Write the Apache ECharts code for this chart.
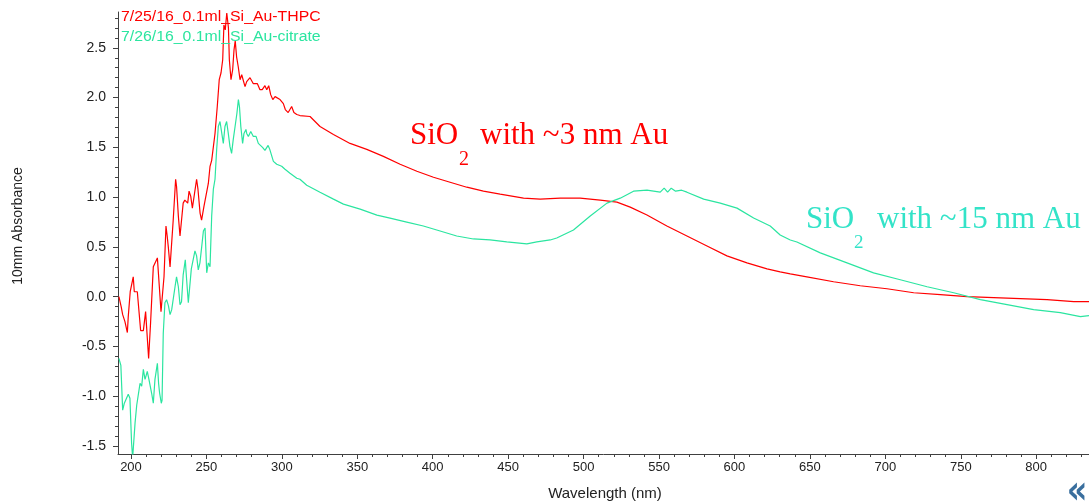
<!DOCTYPE html>
<html>
<head>
<meta charset="utf-8">
<script src="https://cdn.jsdelivr.net/npm/echarts@6/dist/echarts.min.js"></script>
<style>
html,body{margin:0;padding:0;background:#fff;}
#chart{width:1089px;height:502px;}
</style>
</head>
<body>
<div id="chart"></div>
<script>
// ---- data ----
const seriesNames = ['7/25/16_0.1ml_Si_Au-THPC', '7/26/16_0.1ml_Si_Au-citrate'];

const thpcWavelength = [192.0,193.5,194.5,196.0,197.6,198.2,199.5,201.5,202.2,204.2,206.4,208.2,209.7,211.7,213.0,214.8,215.9,217.5,218.8,219.9,220.8,221.9,223.2,224.0,224.8,225.9,226.6,228.0,229.6,230.2,231.4,232.5,233.2,234.6,235.7,237.0,237.6,238.5,239.6,240.7,242.0,243.5,244.4,245.8,246.8,248.4,249.7,251.3,252.4,253.5,254.6,255.7,257.2,258.5,259.7,260.8,261.6,262.5,263.5,264.6,265.2,266.3,267.4,268.3,269.1,270.0,271.1,272.3,273.4,274.4,275.6,276.7,277.8,278.9,280.0,281.1,282.4,283.8,285.5,287.0,288.8,290.0,291.3,292.6,294.0,295.5,296.6,298.8,301.0,302.3,304.2,306.5,308.0,309.9,312.0,318.7,325.3,334.2,345.2,356.3,367.3,378.4,389.5,400.5,411.5,422.6,433.6,444.7,460.2,471.2,484.5,497.7,511.0,522.1,530.9,542.0,555.2,568.5,581.8,595.0,608.3,621.6,630.3,637.0,648.0,665.7,683.4,701.1,718.8,736.5,754.2,771.8,789.5,807.2,824.9,835.0];
const thpcAbsorbance = [0.00,-0.10,-0.18,-0.25,-0.36,-0.20,0.05,0.20,0.05,0.05,-0.34,-0.34,-0.15,-0.62,-0.26,0.30,0.30,0.39,0.10,-0.15,-0.15,0.20,0.71,0.61,0.49,0.30,0.30,0.77,1.18,1.11,0.81,0.61,0.61,0.94,0.97,0.97,0.94,1.06,1.01,0.89,0.89,1.18,1.08,0.84,0.77,0.91,0.89,1.14,1.31,1.37,1.37,1.64,1.91,2.18,2.25,2.38,2.73,2.68,2.85,2.70,2.38,2.18,2.28,2.48,2.57,2.41,2.31,2.18,2.23,2.25,2.11,2.16,2.14,2.20,2.18,2.14,2.15,2.14,2.08,2.08,2.12,2.08,2.12,2.03,1.98,2.01,2.00,1.98,1.94,1.88,1.85,1.91,1.85,1.83,1.82,1.81,1.71,1.63,1.54,1.48,1.41,1.33,1.26,1.20,1.15,1.10,1.06,1.03,0.99,0.98,0.99,0.99,0.97,0.95,0.90,0.82,0.71,0.61,0.51,0.41,0.34,0.28,0.25,0.23,0.20,0.15,0.11,0.08,0.04,0.02,0.00,-0.01,-0.02,-0.03,-0.05,-0.05];

const citrateWavelength = [192.0,193.3,194.5,195.6,196.7,198.2,199.3,200.4,201.1,202.7,203.8,204.9,206.0,207.1,208.2,209.3,209.9,210.8,211.9,213.7,214.8,215.9,217.5,218.3,219.0,220.1,220.6,221.4,222.5,223.6,224.8,225.9,227.0,228.0,229.2,230.2,231.4,232.5,233.5,234.6,236.0,236.8,238.0,239.0,240.0,242.4,243.5,244.6,245.7,246.8,248.0,249.1,250.2,251.3,252.4,253.5,254.6,255.7,256.8,257.9,259.0,260.1,261.2,262.3,263.4,264.5,265.6,266.7,267.8,269.0,270.2,271.2,271.9,272.8,274.0,274.9,276.2,276.7,277.8,279.4,281.1,282.9,284.4,285.5,287.2,288.8,290.9,292.0,294.4,296.6,299.9,302.1,305.4,309.9,312.0,316.5,325.3,334.2,340.8,351.9,363.0,371.7,382.8,393.8,404.9,415.9,427.0,438.0,449.1,462.4,469.0,477.9,482.2,493.3,504.4,515.5,524.3,533.1,542.0,550.8,553.4,555.7,558.1,561.0,565.0,568.5,579.6,590.6,601.7,612.7,623.7,630.3,637.0,641.4,656.9,674.6,692.2,709.9,727.7,745.3,763.0,780.7,798.3,816.0,829.3,835.0];
const citrateAbsorbance = [-0.62,-0.69,-1.14,-1.07,-1.09,-0.98,-1.02,-1.47,-1.62,-1.27,-1.09,-1.10,-0.87,-0.90,-0.73,-0.83,-0.80,-0.75,-0.83,-0.97,-1.07,-0.83,-0.67,-0.87,-0.97,-1.07,-1.04,-0.37,-0.06,-0.03,-0.09,-0.18,-0.13,-0.14,0.10,0.20,0.10,-0.08,-0.05,0.22,0.37,0.19,-0.06,-0.05,0.28,0.46,0.41,0.27,0.34,0.49,0.66,0.69,0.24,0.34,0.30,0.81,1.08,1.18,1.48,1.71,1.76,1.74,1.54,1.71,1.76,1.64,1.51,1.44,1.58,1.71,1.84,1.98,1.91,1.71,1.54,1.64,1.68,1.64,1.61,1.66,1.61,1.61,1.54,1.56,1.50,1.47,1.52,1.48,1.36,1.33,1.31,1.28,1.24,1.19,1.18,1.12,1.05,0.98,0.93,0.88,0.82,0.79,0.75,0.71,0.66,0.61,0.58,0.57,0.55,0.53,0.55,0.57,0.59,0.67,0.81,0.94,0.99,1.06,1.07,1.05,1.09,1.05,1.09,1.06,1.07,1.05,0.98,0.94,0.89,0.79,0.71,0.62,0.57,0.55,0.44,0.34,0.24,0.17,0.10,0.04,-0.03,-0.08,-0.13,-0.16,-0.20,-0.19];

const xTickLabels = [200,250,300,350,400,450,500,550,600,650,700,750,800];
const yTickLabels = [-1.5,-1.0,-0.5,0.0,0.5,1.0,1.5,2.0,2.5];
const xAxisTitle = 'Wavelength (nm)';
const yAxisTitle = '10mm Absorbance';
const annotations = [
  {main: 'SiO', sub: '2', rest: 'with ~3 nm Au'},
  {main: 'SiO', sub: '2', rest: 'with ~15 nm Au'}
];

// ---- minor tick positions ----
const xMinor = [];
for (let v = 200; v <= 830; v += 10) xMinor.push(v);
const yMinor = [];
for (let k = -15; k <= 28; k++) yMinor.push(Math.round(k) / 10);

const RED = '#FF0000';
const GREEN = '#2BE5A0';
const CYAN = '#33E3C8';
const AXIS = '#404040';
const LABEL = '#222222';

const xMin = 191.4, xMax = 835, yMin = -1.58, yMax = 2.86;

const chart = echarts.init(document.getElementById('chart'), null, {renderer: 'canvas'});

const option = {
  animation: false,
  backgroundColor: '#ffffff',
  grid: {left: 118, right: 0, top: 12, bottom: 48},
  xAxis: [
    {
      type: 'value', min: xMin, max: xMax, position: 'bottom', offset: 0,
      axisLine: {show: true, onZero: false, lineStyle: {color: AXIS, width: 1}},
      axisTick: {show: true, length: 5, customValues: xTickLabels, lineStyle: {color: AXIS}},
      axisLabel: {show: true, customValues: xTickLabels, margin: 7, color: LABEL,
        fontFamily: 'Liberation Sans', fontSize: 13, formatter: v => String(v)},
      splitLine: {show: false}
    },
    {
      type: 'value', min: xMin, max: xMax, position: 'bottom', offset: 0,
      axisLine: {show: false, onZero: false},
      axisTick: {show: true, length: 3, customValues: xMinor, lineStyle: {color: AXIS}},
      axisLabel: {show: false},
      splitLine: {show: false}
    }
  ],
  yAxis: [
    {
      type: 'value', min: yMin, max: yMax, position: 'left', offset: 0,
      axisLine: {show: true, onZero: false, lineStyle: {color: AXIS, width: 1}},
      axisTick: {show: true, length: 5, customValues: yTickLabels, lineStyle: {color: AXIS}},
      axisLabel: {show: true, customValues: yTickLabels, margin: 12, color: LABEL,
        fontFamily: 'Liberation Sans', fontSize: 14, formatter: v => v.toFixed(1)},
      splitLine: {show: false}
    },
    {
      type: 'value', min: yMin, max: yMax, position: 'left', offset: 0,
      axisLine: {show: false, onZero: false},
      axisTick: {show: true, length: 3, customValues: yMinor, lineStyle: {color: AXIS}},
      axisLabel: {show: false},
      splitLine: {show: false}
    }
  ],
  series: [
    {
      name: seriesNames[0], type: 'line', xAxisIndex: 0, yAxisIndex: 0,
      showSymbol: false, symbol: 'none', clip: true,
      lineStyle: {color: RED, width: 1.2},
      itemStyle: {color: RED},
      data: thpcWavelength.map((w, i) => [w, thpcAbsorbance[i]])
    },
    {
      name: seriesNames[1], type: 'line', xAxisIndex: 0, yAxisIndex: 0,
      showSymbol: false, symbol: 'none', clip: true,
      lineStyle: {color: GREEN, width: 1.2},
      itemStyle: {color: GREEN},
      data: citrateWavelength.map((w, i) => [w, citrateAbsorbance[i]])
    }
  ],
  graphic: [
    {type: 'text', x: 121, y: 17, scaleX: 1.13, z: 100,
      style: {text: seriesNames[0], fill: RED, font: '14px "Liberation Sans"', textAlign: 'left', verticalAlign: 'middle'}},
    {type: 'text', x: 121, y: 37, scaleX: 1.13, z: 100,
      style: {text: seriesNames[1], fill: GREEN, font: '14px "Liberation Sans"', textAlign: 'left', verticalAlign: 'middle'}},
    {type: 'text', x: 18, y: 226, rotation: Math.PI / 2, z: 100,
      style: {text: yAxisTitle, fill: LABEL, font: '14px "Liberation Sans"', textAlign: 'center', verticalAlign: 'middle'}},
    {type: 'text', x: 605, y: 494, z: 100,
      style: {text: xAxisTitle, fill: LABEL, font: '15px "Liberation Sans"', textAlign: 'center', verticalAlign: 'middle'}},
    // red annotation
    {type: 'text', x: 410, y: 136, z: 100,
      style: {text: annotations[0].main, fill: RED, font: '31px "Liberation Serif"', textAlign: 'left', verticalAlign: 'middle'}},
    {type: 'text', x: 459, y: 160, z: 100,
      style: {text: annotations[0].sub, fill: RED, font: '20px "Liberation Serif"', textAlign: 'left', verticalAlign: 'middle'}},
    {type: 'text', x: 480, y: 136, z: 100,
      style: {text: annotations[0].rest, fill: RED, font: '31px "Liberation Serif"', textAlign: 'left', verticalAlign: 'middle'}},
    // cyan annotation
    {type: 'text', x: 806, y: 220, z: 100,
      style: {text: annotations[1].main, fill: CYAN, font: '31px "Liberation Serif"', textAlign: 'left', verticalAlign: 'middle'}},
    {type: 'text', x: 854, y: 243, z: 100,
      style: {text: annotations[1].sub, fill: CYAN, font: '19px "Liberation Serif"', textAlign: 'left', verticalAlign: 'middle'}},
    {type: 'text', x: 877, y: 220, z: 100,
      style: {text: annotations[1].rest, fill: CYAN, font: '31px "Liberation Serif"', textAlign: 'left', verticalAlign: 'middle'}},
    // chevron in corner
    {type: 'text', x: 1077, y: 493, scaleY: 1.2, z: 100,
      style: {text: '«', fill: '#3A6F9E', font: 'bold 32px "DejaVu Sans"', textAlign: 'center', verticalAlign: 'middle'}}
  ]
};
chart.setOption(option);
</script>
</body>
</html>
